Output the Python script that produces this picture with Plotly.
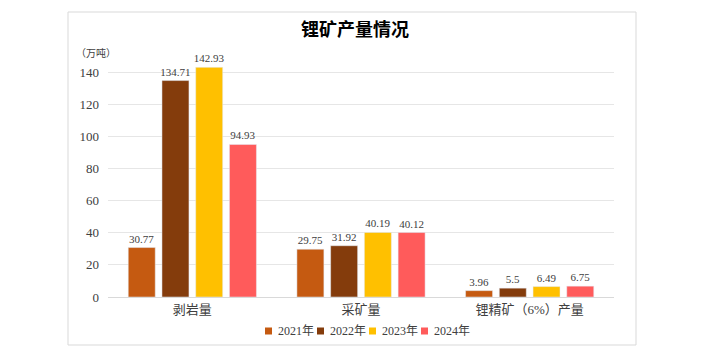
import plotly.graph_objects as go

categories = ["剥岩量", "采矿量", "锂精矿（6%）产量"]
years = ["2021年", "2022年", "2023年", "2024年"]
v2021 = [30.77, 29.75, 3.96]
v2022 = [134.71, 31.92, 5.5]
v2023 = [142.93, 40.19, 6.49]
v2024 = [94.93, 40.12, 6.75]
colors = ["#C55A11", "#843C0C", "#FFC000", "#FF5B5B"]
series = [v2021, v2022, v2023, v2024]

FONT = "'Liberation Serif', 'Times New Roman', 'Noto Sans CJK SC', serif"

fig = go.Figure()
for name, vals, c in zip(years, series, colors):
    fig.add_trace(go.Bar(
        x=categories, y=vals, name=name, marker_color=c,
        text=[str(v) for v in vals], textposition="outside",
        textfont=dict(size=11, color="#404040", family=FONT),
        constraintext="none", cliponaxis=False, showlegend=False,
    ))

L, R, T, B = 108, 90, 56, 51
W, H = 704, 348
pw, ph = W - L - R, H - T - B

def px(x):
    return (x - L) / pw

def py(y):
    return (H - B - y) / ph

shapes = [dict(type="rect", xref="paper", yref="paper",
               x0=px(68), x1=px(636), y0=py(345), y1=py(12),
               line=dict(color="#d9d9d9", width=1), layer="below")]
annotations = [dict(text="（万吨）", xref="paper", yref="paper", x=px(74), y=py(53),
                    xanchor="left", yanchor="middle", showarrow=False,
                    font=dict(size=10, color="#404040", family=FONT))]

# custom compact legend (layout element, not data marks)
LEG_X0, LEG_Y, LEG_PITCH, SQ = 265, 331, 52, 7
for i, (name, c) in enumerate(zip(years, colors)):
    x0 = LEG_X0 + i * LEG_PITCH
    shapes.append(dict(type="rect", xref="paper", yref="paper",
                       x0=px(x0), x1=px(x0 + SQ), y0=py(LEG_Y + SQ / 2), y1=py(LEG_Y - SQ / 2),
                       fillcolor=c, line=dict(width=0)))
    annotations.append(dict(text=name, xref="paper", yref="paper", x=px(x0 + SQ + 4), y=py(LEG_Y),
                            xanchor="left", yanchor="middle", showarrow=False,
                            font=dict(size=12, color="#404040", family=FONT)))

fig.update_layout(
    width=W, height=H,
    margin=dict(l=L, r=R, t=T, b=B, autoexpand=False),
    paper_bgcolor="white", plot_bgcolor="white",
    barmode="group", bargap=0.2, bargroupgap=0.2,
    font=dict(family=FONT, color="#404040", size=12),
    title=dict(text="<b>锂矿产量情况</b>", x=px(355), xref="paper", xanchor="center",
               y=1 - 30 / H, yanchor="middle",
               font=dict(size=18, color="#000000", family=FONT)),
    showlegend=False,
    xaxis=dict(showgrid=False, showline=True, linecolor="#d9d9d9", ticks="",
               ticklabelstandoff=0,
               tickfont=dict(size=13, color="#404040", family=FONT)),
    yaxis=dict(range=[0, 150], tickvals=[0, 20, 40, 60, 80, 100, 120, 140],
               showgrid=True, gridcolor="#e6e6e6", zeroline=False,
               showline=False, ticks="", ticklabelstandoff=8,
               tickfont=dict(size=13, color="#404040", family=FONT)),
    shapes=shapes,
    annotations=annotations,
)

fig.write_html("out.html")
